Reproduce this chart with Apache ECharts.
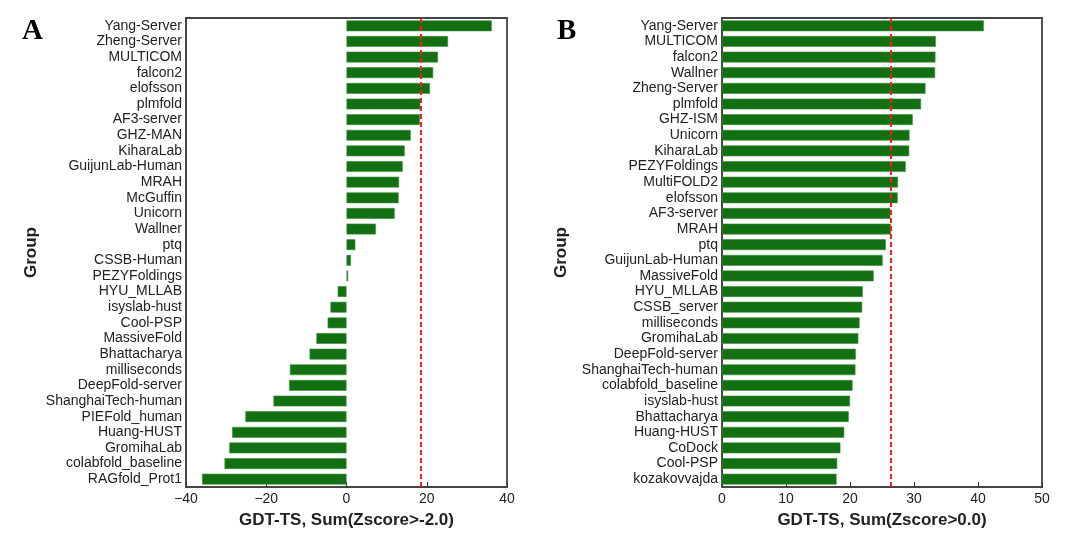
<!DOCTYPE html>
<html>
<head>
<meta charset="utf-8">
<script src="https://cdn.jsdelivr.net/npm/echarts@6/dist/echarts.min.js"></script>
<style>html,body{margin:0;padding:0;background:#fff;}#c{width:1080px;height:540px;}</style>
</head>
<body>
<div id="c"></div>
<script>
const groupsA = ["Yang-Server","Zheng-Server","MULTICOM","falcon2","elofsson","plmfold","AF3-server","GHZ-MAN","KiharaLab","GuijunLab-Human","MRAH","McGuffin","Unicorn","Wallner","ptq","CSSB-Human","PEZYFoldings","HYU_MLLAB","isyslab-hust","Cool-PSP","MassiveFold","Bhattacharya","milliseconds","DeepFold-server","ShanghaiTech-human","PIEFold_human","Huang-HUST","GromihaLab","colabfold_baseline","RAGfold_Prot1"];
const valuesA = [36.2,25.3,22.8,21.6,20.8,18.4,18.3,16.0,14.5,14.0,13.1,13.0,12.0,7.3,2.2,1.1,0.4,-2.2,-4.0,-4.7,-7.5,-9.2,-14.1,-14.3,-18.2,-25.2,-28.5,-29.2,-30.4,-36.0];
const refA = 18.4;

const groupsB = ["Yang-Server","MULTICOM","falcon2","Wallner","Zheng-Server","plmfold","GHZ-ISM","Unicorn","KiharaLab","PEZYFoldings","MultiFOLD2","elofsson","AF3-server","MRAH","ptq","GuijunLab-Human","MassiveFold","HYU_MLLAB","CSSB_server","milliseconds","GromihaLab","DeepFold-server","ShanghaiTech-human","colabfold_baseline","isyslab-hust","Bhattacharya","Huang-HUST","CoDock","Cool-PSP","kozakovvajda"];
const valuesB = [40.9,33.4,33.35,33.3,31.8,31.1,29.8,29.3,29.25,28.7,27.5,27.45,26.3,26.4,25.6,25.1,23.7,22.0,21.9,21.5,21.3,20.9,20.85,20.4,20.0,19.8,19.1,18.5,18.0,17.9];
const refB = 26.3;

const xTitleA = "GDT-TS, Sum(Zscore>-2.0)";
const xTitleB = "GDT-TS, Sum(Zscore>0.0)";

const chart = echarts.init(document.getElementById('c'), null, {renderer:'canvas'});
const font = "'Liberation Sans', Arial, sans-serif";
const barColor = '#127012';

function xAxis(idx, min, max, interval, name) {
  return {
    type:'value', gridIndex: idx, min, max, interval,
    name, nameLocation:'middle', nameGap: 25,
    nameTextStyle:{fontFamily:font, fontSize:17, fontWeight:'bold', color:'#222'},
    axisLine:{show:true, onZero:false, lineStyle:{color:'#444', width:1.8}},
    axisTick:{show:true, inside:true, length:5, lineStyle:{color:'#333', width:1}},
    axisLabel:{fontFamily:font, fontSize:14, color:'#222', margin:5,
      formatter: v => String(v).replace('-', '\u2212')},
    splitLine:{show:false}
  };
}
function yAxis(idx, cats) {
  return {
    type:'category', gridIndex: idx, data: cats, inverse:true,
    name:'Group', nameLocation:'middle', nameGap: 0,
    nameTextStyle:{fontFamily:font, fontSize:17, fontWeight:'bold', color:'#222'},
    axisLine:{show:true, onZero:false, lineStyle:{color:'#444', width:1.8}},
    axisTick:{show:false},
    axisLabel:{fontFamily:font, fontSize:14, color:'#222', margin:4, interval:0},
    splitLine:{show:false}
  };
}
function series(idx, vals, ref) {
  return {
    type:'bar', xAxisIndex: idx, yAxisIndex: idx, data: vals,
    barCategoryGap:'31%',
    itemStyle:{color:barColor, borderColor:'#3a8c3a', borderWidth:0.6},
    silent:true,
    markLine:{
      silent:true, symbol:'none', label:{show:false},
      lineStyle:{color:'#ff1a1a', type:[5,3], width:2},
      data:[{xAxis: ref}]
    }
  };
}

const yA = yAxis(0, groupsA); yA.nameGap = 146;
const yB = yAxis(1, groupsB); yB.nameGap = 152;

chart.setOption({
  animation:false,
  backgroundColor:'#fff',
  title:[
    {text:'A', left:17, top:12, textStyle:{fontFamily:"'Liberation Serif', 'Times New Roman', serif", fontSize:29, fontWeight:'bold', color:'#000'}},
    {text:'B', left:552, top:12, textStyle:{fontFamily:"'Liberation Serif', 'Times New Roman', serif", fontSize:29, fontWeight:'bold', color:'#000'}}
  ],
  grid:[
    {left:186, right:573, top:18, bottom:53, show:true, borderColor:'#444', borderWidth:1.8},
    {left:722, right:38, top:18, bottom:53, show:true, borderColor:'#444', borderWidth:1.8}
  ],
  xAxis:[xAxis(0,-40,40,20,xTitleA), xAxis(1,0,50,10,xTitleB)],
  yAxis:[yA, yB],
  series:[series(0, valuesA, refA), series(1, valuesB, refB)]
});
</script>
</body>
</html>
